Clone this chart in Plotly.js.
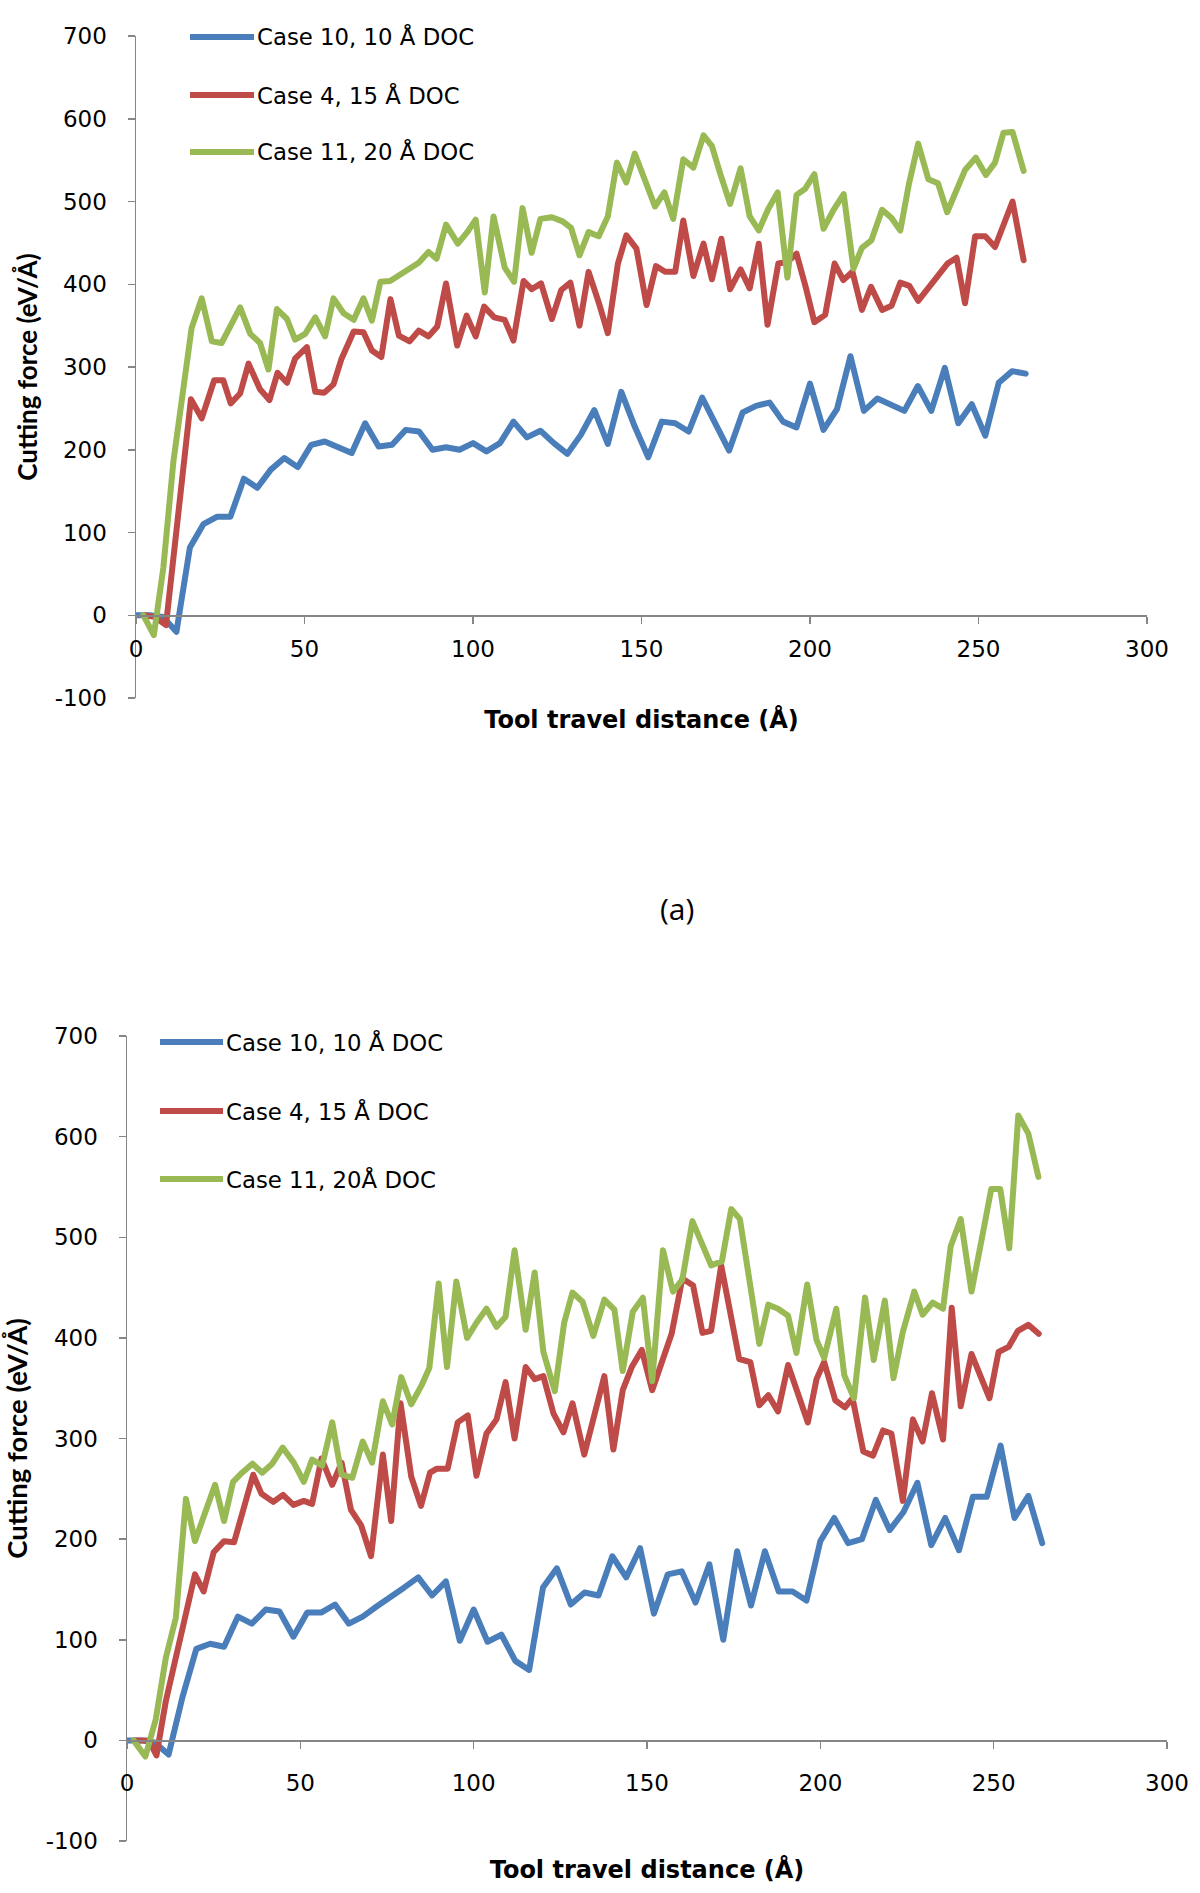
<!DOCTYPE html>
<html>
<head>
<meta charset="utf-8">
<script src="https://cdn.plot.ly/plotly-3.0.1.min.js"></script>
<style>
  html, body { margin: 0; padding: 0; background: #fff; }
  #chart { width: 1200px; height: 1893px; }
  .scatterlayer path.js-line { stroke-linejoin: round; stroke-linecap: round; }
</style>
</head>
<body>
<div id="chart"></div>
<script>
// ---------- Data ----------
const seriesNames = ["Case 10, 10 Å DOC", "Case 4, 15 Å DOC", "Case 11, 20 Å DOC"];
const seriesNamesB = ["Case 10, 10 Å DOC", "Case 4, 15 Å DOC", "Case 11, 20Å DOC"];
const xTickVals = [0, 50, 100, 150, 200, 250, 300];
const yTickVals = [-100, 0, 100, 200, 300, 400, 500, 600, 700];
const yTickText = ["-100", "0", "100", "200", "300", "400", "500", "600", "700"];

// (a) top chart
const topBlueX = [0,4,8,12,16,20,24,28,32,36,40,44,48,52,56,60,64,68,72,76,80,84,88,92,96,100,104,108,112,116,120,124,128,132,136,140,144,148,152,156,160,164,168,172,176,180,184,188,192,196,200,204,208,212,216,220,224,228,232,236,240,244,248,252,256,260,264];
const topBlueY = [0,0,-2,-20,82,110,119,119,165,154,176,190,179,206,210,203,196,232,204,206,224,222,200,203,200,208,198,208,234,215,223,208,195,218,248,207,270,228,191,234,232,222,263,231,199,245,253,257,234,227,280,224,249,313,247,262,254,247,277,247,299,232,255,217,281,295,292];

const topRedX = [2.5,5.5,8.9,13.1,16.3,19.5,23.2,25.9,28.1,30.9,33.4,36.8,39.6,42,44.8,47.2,50.7,53.2,55.9,58.6,60.9,64.6,67.5,70,72.8,75.5,78,81.2,83.9,86.8,89.4,92,95.3,98.1,100.8,103.3,106.3,109.4,112,115,117.4,120.2,123.4,126.2,128.9,131.6,134.3,137.3,140,143,145.5,148.5,151.5,154.3,157,160,162.4,165.4,168.4,170.9,173.7,176.3,179.4,182.1,184.8,187.4,190.6,193.3,196,198.7,201.3,204.5,207.3,209.9,212.6,215.4,218.1,221.4,224.2,226.8,229.5,232.1,235.1,237.8,240.8,243.5,246,249,252,254.9,257.4,260.1,263.4];
const topRedY = [0,-2,-12,145,261,238,284,284,256,268,304,273,260,293,281,310,324,270,269,279,309,343,342,320,312,382,338,331,344,337,349,401,326,362,337,373,360,357,332,404,394,401,358,393,402,350,415,378,341,425,459,443,375,422,415,415,477,410,449,406,455,394,418,395,449,351,425,427,437,397,354,363,425,405,415,369,397,369,374,402,398,380,395,409,425,432,377,458,458,445,470,500,429];

const topGreenX = [2.2,5.3,8.1,11.1,16.5,19.5,22.5,25.4,30.9,33.9,36.8,39.3,41.8,44.8,47.2,50.2,53.2,56.1,58.6,61.6,64.6,67.5,70,72.5,75.4,80.4,83.9,86.8,89.2,92,95.5,98.3,100.8,103.5,106.1,109.4,112.2,114.7,117.4,120,123.4,126.6,129.1,131.6,134.3,137.3,140,142.7,145.5,148,151,154,156.8,159.4,162.4,165.4,168.4,170.9,173.4,176.3,179.4,182.1,184.8,187.6,190.4,193.3,196,198.5,201.3,204,207,210,212.9,215.4,218.2,221.4,224.2,226.8,229.3,232.1,235.1,238,240.7,243.5,246,249.2,252.2,254.9,257.4,260.1,263.4];
const topGreenY = [0,-24,57,186,347,383,331,329,372,340,329,297,370,358,333,340,360,337,383,365,357,383,356,403,404,418,426,439,431,472,449,463,478,390,482,420,403,492,438,479,481,476,468,435,463,458,482,547,523,558,528,494,511,479,551,541,580,567,533,497,540,482,465,491,511,408,508,515,533,467,490,509,419,444,453,490,480,465,520,570,527,522,487,512,538,553,532,547,583,584,537];

// (b) bottom chart
const botBlueX = [0,4,8,12,16,20,24,28,32,36,40,44,48,52,56,60,64,68,72,76,80,84,88,92,96,100,104,108,112,116,120,124,128,132,136,140,144,148,152,156,160,164,168,172,176,180,184,188,192,196,200,204,208,212,216,220,224,228,232,236,240,244,248,252,256,260,264];
const botBlueY = [0,0,-2,-14,43,91,96,93,123,116,130,128,103,127,127,135,116,123,133,142,152,162,144,158,99,130,98,105,79,70,152,171,135,147,144,183,162,191,126,165,168,137,175,100,188,134,188,148,148,139,198,221,196,200,239,209,227,256,194,221,189,242,242,293,221,243,196];

const botRedX = [1.9,6.3,8.5,11.2,19.6,22.1,25,28,30.9,33.5,36.4,38.8,42.2,45,48,51,53.4,56.1,59.2,61.9,64.6,67.5,70.4,73.8,76.2,78.9,82,84.8,87.4,89.4,92.5,95.4,98.3,100.8,103.7,106.6,109.2,111.8,115,117.6,120.1,123,125.9,128.5,131.9,134.8,137.7,140.3,143,145.6,148.5,151.5,154.2,157.1,160.2,163.3,166,168.5,171.4,174,176.6,179.8,182.4,185,187.8,190.7,193.5,196.4,198.9,201.1,204.3,207.1,209.3,212.4,215.2,218.1,220.5,223.8,226.7,229.5,232.2,235.4,237.9,240.5,243.6,246.2,248.8,251.4,254.3,257,260,263];
const botRedY = [0,0,-15,39,165,148,187,198,197,229,264,245,237,244,234,238,235,280,254,276,229,214,183,284,218,335,262,233,266,270,270,316,323,263,305,319,356,300,371,359,362,325,306,335,284,323,362,289,348,371,388,348,376,404,459,452,405,407,472,426,379,376,333,343,327,373,345,316,359,376,338,331,340,287,283,308,305,238,319,297,345,299,430,332,384,363,340,386,391,407,413,404];

const botGreenX = [1.9,5.3,8.3,11.2,14.1,17,19.6,22.5,25.4,28,30.6,33.2,36.2,39,41.9,44.9,48.1,51,53.4,56.3,59.2,61.9,65,68,70.7,73.8,76.5,79.1,82,85,87.2,89.9,92.3,95,98.1,101,103.7,106.6,109.2,111.8,115,117.6,120.1,123.4,126.1,128.5,131.4,134.5,137.7,140.6,143,145.9,148.8,151.5,154.6,157.5,160.2,163.1,165.8,168.5,171.6,174.3,176.8,179.6,182.4,185,187.8,190.7,193.1,196.2,198.9,201.1,204.6,206.9,209.7,212.9,215.4,218.6,221.1,223.8,227.1,229.5,232.4,235.4,237.6,240.5,243.6,246.5,249.3,251.9,254.5,257.1,260,262.9];
const botGreenY = [0,-16,21,82,122,240,198,227,254,218,257,266,275,266,275,291,276,257,279,273,316,264,261,297,276,337,314,361,334,353,370,454,371,456,400,416,429,411,421,487,408,465,386,347,415,445,436,402,438,428,367,426,440,357,487,446,458,516,494,472,476,528,518,458,394,433,429,422,385,453,398,380,429,363,340,440,378,437,360,406,446,423,435,429,491,518,446,497,548,548,489,621,603,560];

// ---------- Styling ----------
const W = 1200, H = 1893;
const colors = ["#4A7EBB", "#BE4B48", "#98B954"];
const LW = 6;
const axisGrey = "#868686";
const tickFont = { family: "DejaVu Sans, Verdana, sans-serif", size: 23, color: "#000" };
const legendFont = { family: "DejaVu Sans, Verdana, sans-serif", size: 22.8, color: "#000" };
const xTitleFont = { family: "DejaVu Sans, Verdana, sans-serif", size: 24, color: "#000", weight: "bold" };
const yTitleFont = { family: "'Liberation Sans Narrow', 'Arial Narrow', Lato, sans-serif", size: 26, color: "#000", weight: "bold" };
const px = v => v / W;
const py = v => 1 - v / H;

function mkTrace(x, y, i, name, xa, ya) {
  return { x: x, y: y, name: name, type: "scatter", mode: "lines",
           line: { color: colors[i], width: LW }, xaxis: xa, yaxis: ya,
           showlegend: false, hoverinfo: "skip" };
}

const data = [
  mkTrace(topBlueX, topBlueY, 0, seriesNames[0], "x", "y"),
  mkTrace(topRedX, topRedY, 1, seriesNames[1], "x", "y"),
  mkTrace(topGreenX, topGreenY, 2, seriesNames[2], "x", "y"),
  mkTrace(botBlueX, botBlueY, 0, seriesNamesB[0], "x2", "y2"),
  mkTrace(botRedX, botRedY, 1, seriesNamesB[1], "x2", "y2"),
  mkTrace(botGreenX, botGreenY, 2, seriesNamesB[2], "x2", "y2")
];

function xAxis(domain, pos, standoffLbl, titleStandoff) {
  return {
    domain: domain, range: [0, 300], anchor: "free", position: pos,
    tickmode: "array", tickvals: xTickVals,
    ticks: "outside", ticklen: 7, tickwidth: 1.5, tickcolor: axisGrey,
    showline: true, linecolor: axisGrey, linewidth: 1.5,
    showgrid: false, zeroline: false, tickfont: tickFont,
    ticklabelstandoff: standoffLbl,
    title: { text: "Tool travel distance (Å)", font: xTitleFont, standoff: titleStandoff },
    fixedrange: true
  };
}
function yAxis(domain, anchor, titleStandoff, tfont) {
  return {
    domain: domain, range: [-100, 700], anchor: anchor,
    tickmode: "array", tickvals: yTickVals, ticktext: yTickText,
    ticks: "outside", ticklen: 7, tickwidth: 1.5, tickcolor: axisGrey,
    showline: true, linecolor: axisGrey, linewidth: 1.5,
    showgrid: false, zeroline: false, tickfont: tickFont,
    ticklabelstandoff: 16,
    title: { text: "Cutting force (eV/Å)", font: tfont, standoff: titleStandoff },
    fixedrange: true
  };
}

// legend built from the series names/colours
const shapes = [], annotations = [];
function legend(names, x0, x1, tx, ys) {
  names.forEach((n, i) => {
    shapes.push({ type: "line", xref: "paper", yref: "paper",
      x0: px(x0), x1: px(x1), y0: py(ys[i]), y1: py(ys[i]),
      line: { color: colors[i], width: LW } });
    annotations.push({ xref: "paper", yref: "paper", x: px(tx), y: py(ys[i]),
      xanchor: "left", yanchor: "middle", showarrow: false, text: n, font: legendFont });
  });
}
legend(seriesNames, 190, 254, 255, [37, 95, 152]);
legend(seriesNamesB, 160, 223, 224, [1042, 1111, 1179]);

annotations.push({ xref: "paper", yref: "paper", x: px(677), y: py(908),
  xanchor: "center", yanchor: "middle", showarrow: false, text: "(a)",
  font: { family: "'Open Sans', Lato, sans-serif", size: 30, color: "#000" } });

const layout = {
  width: W, height: H,
  margin: { l: 0, r: 0, t: 0, b: 0 },
  paper_bgcolor: "#fff", plot_bgcolor: "rgba(0,0,0,0)",
  showlegend: false,
  xaxis: xAxis([px(136), px(1147)], py(615.3), 6, 50),
  yaxis: yAxis([py(698), py(36)], "x", 9, yTitleFont),
  xaxis2: xAxis([px(127), px(1167)], py(1740.4), 14, 66),
  yaxis2: yAxis([py(1841), py(1036)], "x2", 10, Object.assign({}, yTitleFont, { size: 27.5 })),
  shapes: shapes, annotations: annotations
};

Plotly.newPlot("chart", data, layout, { staticPlot: true, displayModeBar: false });
</script>
</body>
</html>
